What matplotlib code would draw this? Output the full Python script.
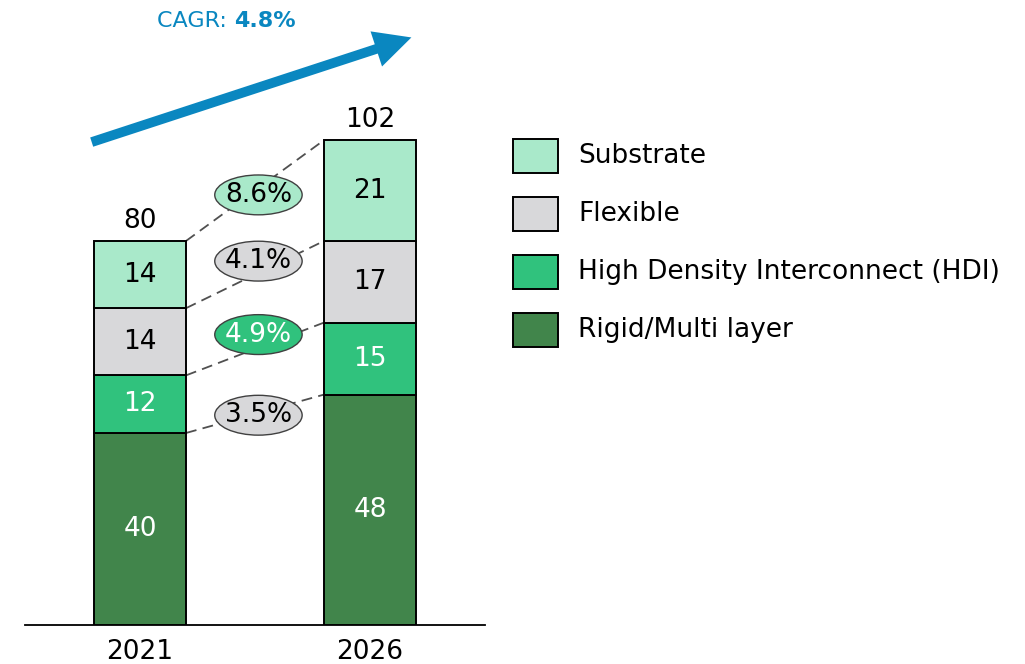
import matplotlib.pyplot as plt
from matplotlib.patches import Ellipse, Rectangle

plt.rcParams['font.family'] = ['DejaVu Sans']

# PCB market by segment, 2021 vs 2026
years = ['2021', '2026']
segments = ['Rigid/Multi layer', 'High Density Interconnect (HDI)', 'Flexible', 'Substrate']
values_2021 = [40, 12, 14, 14]
values_2026 = [48, 15, 17, 21]
totals = [80, 102]
growth = ['3.5%', '4.9%', '4.1%', '8.6%']
cagr = '4.8%'

colors = ['#41854b', '#30c27d', '#d8d8da', '#a9e9ca']
text_colors = ['white', 'white', 'black', 'black']
bubble_fill = ['#d8d8da', '#30c27d', '#d8d8da', '#a9e9ca']
bubble_text = ['black', 'white', 'black', 'black']
blue = '#0a87c0'

fig = plt.figure(figsize=(10.25, 6.64), dpi=100)
ax = fig.add_axes([25 / 1025, 39 / 664, 460 / 1025, 625 / 664])
ax.set_xlim(-0.5, 1.5)
ax.set_ylim(0, 130.2)
ax.axis('off')
ax.axhline(0, color='black', lw=1.3, clip_on=False)

w = 0.4
series = [values_2021, values_2026]
fs = 19
for i, vals in enumerate(series):
    bottom = 0
    for k, v in enumerate(vals):
        ax.bar(i, v, w, bottom=bottom, color=colors[k], edgecolor='black', lw=1.4, zorder=3)
        ax.text(i, bottom + v / 2, str(v), ha='center', va='center',
                fontsize=fs, color=text_colors[k], zorder=4)
        bottom += v
    ax.text(i, bottom + 1.5, str(totals[i]), ha='center', va='bottom', fontsize=fs)
    ax.text(i, -5.7, years[i], ha='center', va='center', fontsize=fs, clip_on=False)

# dashed connectors between segment tops and growth bubbles
tops0 = [sum(values_2021[:k + 1]) for k in range(4)]
tops1 = [sum(values_2026[:k + 1]) for k in range(4)]
nudge = [-0.3, 3.0, 2.8, -0.9]
for k in range(4):
    x0, x1 = w / 2, 1 - w / 2
    ax.plot([x0, x1], [tops0[k], tops1[k]], color='#505050', lw=1.3,
            dashes=(6, 3.5), zorder=2)
    ym = (tops0[k] + tops1[k]) / 2 + nudge[k]
    ax.add_patch(Ellipse((0.515, ym), 0.38, 8.3, facecolor=bubble_fill[k],
                         edgecolor='#404040', lw=1.0, zorder=5))
    ax.text(0.515, ym, growth[k], ha='center', va='center', fontsize=fs,
            color=bubble_text[k], zorder=6)

# CAGR arrow
ax.annotate('', xy=(1.18, 122.4), xytext=(-0.21, 100.6),
            arrowprops=dict(arrowstyle='simple,head_length=0.95,head_width=0.95,tail_width=0.25',
                            mutation_scale=28, color=blue, lw=0,
                            shrinkA=0, shrinkB=0),
            annotation_clip=False)
fig.text(0.228, 0.969, 'CAGR: ', color=blue, fontsize=16, ha='right', va='center')
fig.text(0.228, 0.969, cagr, color=blue, fontsize=16, fontweight='bold',
         ha='left', va='center')

# legend
for j, k in enumerate([3, 2, 1, 0]):
    y = 1 - (156 + j * 58) / 664
    fig.patches.append(Rectangle((513 / 1025, y - 17 / 664), 45 / 1025, 34 / 664,
                                 transform=fig.transFigure, facecolor=colors[k],
                                 edgecolor='black', lw=1.4))
    fig.text(578 / 1025, y, segments[k], fontsize=fs, va='center', ha='left')

fig.savefig('out.png', dpi=100)
